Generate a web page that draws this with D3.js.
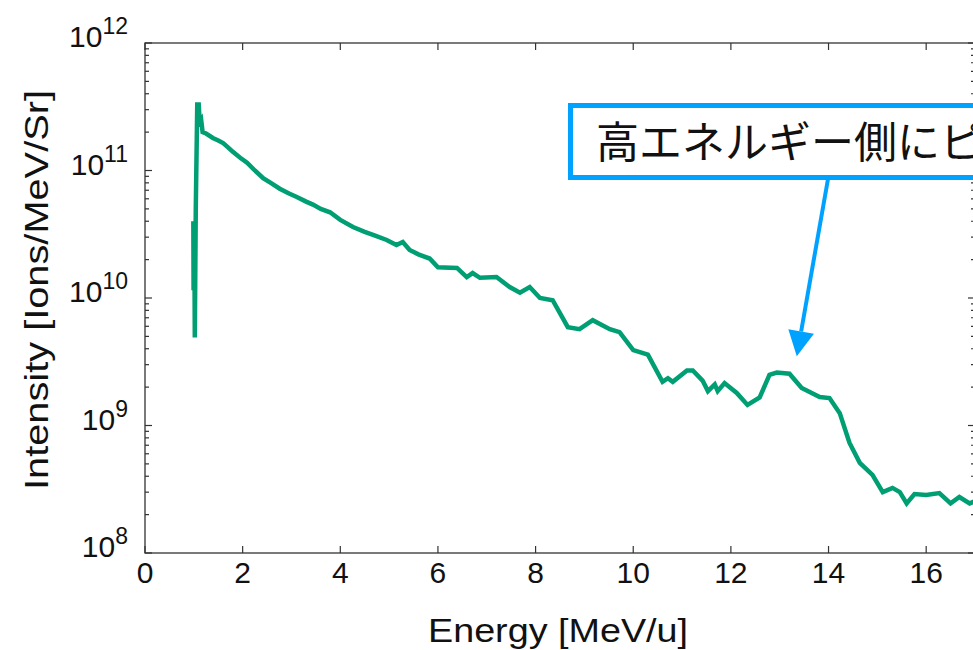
<!DOCTYPE html>
<html>
<head>
<meta charset="utf-8">
<script src="https://cdn.jsdelivr.net/npm/d3@7"></script>
<style>
  body { margin: 0; background: #fff; }
  svg { display: block; font-family: "Liberation Sans", Arial, sans-serif; }
</style>
</head>
<body>
<svg width="973" height="650"></svg>
<script>
// spectrum
const energy = [0.99, 0.995, 1.01, 1.02, 1.04, 1.07, 1.10, 1.12, 1.15, 1.18, 1.25, 1.39, 1.50, 1.60, 1.70, 1.80, 1.95,
  2.09, 2.25, 2.42, 2.60, 2.76, 2.95, 3.11, 3.30, 3.44, 3.60, 3.79, 4.00, 4.26, 4.50, 4.70, 4.95, 5.15, 5.28, 5.42,
  5.60, 5.83, 6.00, 6.39, 6.59, 6.71, 6.86, 7.20, 7.47, 7.68, 7.88, 8.09, 8.35, 8.66, 8.90, 9.17, 9.52, 9.72,
  10.0, 10.3, 10.6, 10.71, 10.81, 11.1, 11.22, 11.42, 11.53, 11.67, 11.73, 11.87, 12.12, 12.34, 12.59, 12.79,
  12.94, 13.2, 13.45, 13.82, 14.02, 14.23, 14.43, 14.64, 14.9, 15.11, 15.31, 15.46, 15.6, 15.76, 16.0, 16.27,
  16.5, 16.68, 16.89, 17.0];
const intensity = [4.0e10, 1.15e10, 3.5e10, 4.9e9, 5.0e10, 3.3e11, 3.3e11, 2.4e11, 2.5e11, 2.0e11, 1.95e11, 1.8e11, 1.72e11, 1.64e11, 1.52e11, 1.40e11, 1.26e11,
  1.15e11, 1.0e11, 8.7e10, 7.9e10, 7.2e10, 6.6e10, 6.2e10, 5.7e10, 5.4e10, 5.0e10, 4.7e10, 4.1e10, 3.6e10, 3.3e10, 3.1e10, 2.85e10, 2.6e10, 2.75e10, 2.38e10,
  2.2e10, 2.04e10, 1.74e10, 1.72e10, 1.46e10, 1.57e10, 1.44e10, 1.46e10, 1.22e10, 1.10e10, 1.22e10, 1.0e10, 9.6e9, 5.9e9, 5.7e9, 6.7e9, 5.7e9, 5.4e9,
  3.9e9, 3.6e9, 2.2e9, 2.35e9, 2.2e9, 2.7e9, 2.7e9, 2.25e9, 1.86e9, 2.1e9, 1.86e9, 2.15e9, 1.8e9, 1.45e9, 1.66e9, 2.5e9,
  2.6e9, 2.55e9, 1.97e9, 1.67e9, 1.64e9, 1.25e9, 7.3e8, 5.1e8, 4.1e8, 3.0e8, 3.24e8, 3.0e8, 2.45e8, 2.9e8, 2.85e8, 2.95e8,
  2.45e8, 2.75e8, 2.45e8, 2.55e8];

const xTicks = [0, 2, 4, 6, 8, 10, 12, 14, 16];
const yExponents = [8, 9, 10, 11, 12];
const noteText = "高エネルギー側にピーク";
const notePoint = [13.35, 3.5e9];

const svg = d3.select("svg");
const margin = {left: 145, top: 43, right: 975, bottom: 553};
const axisColor = "#333";

const x = d3.scaleLinear().domain([0, 17]).range([margin.left, margin.right]);
const y = d3.scaleLog().domain([1e8, 1e12]).range([margin.bottom, margin.top]);

svg.append("defs").append("clipPath").attr("id", "plotclip")
  .append("rect")
  .attr("x", margin.left).attr("y", margin.top)
  .attr("width", margin.right - margin.left).attr("height", margin.bottom - margin.top);

// data line
const pts = energy.map((e, i) => [e, intensity[i]]);
const line = d3.line().x(d => x(d[0])).y(d => y(d[1]));
svg.append("path")
  .datum(pts)
  .attr("clip-path", "url(#plotclip)")
  .attr("d", line)
  .attr("fill", "none")
  .attr("stroke", "#009e73")
  .attr("stroke-width", 4.5)
  .attr("stroke-linejoin", "miter");

// frame
svg.append("rect")
  .attr("x", margin.left).attr("y", margin.top)
  .attr("width", margin.right - margin.left).attr("height", margin.bottom - margin.top)
  .attr("fill", "none").attr("stroke", axisColor).attr("stroke-width", 1.3);

// inward ticks on all sides
const ticks = svg.append("g").attr("stroke", axisColor).attr("stroke-width", 1.2);
xTicks.forEach(t => {
  ticks.append("line").attr("x1", x(t)).attr("x2", x(t)).attr("y1", margin.bottom).attr("y2", margin.bottom - 7);
  ticks.append("line").attr("x1", x(t)).attr("x2", x(t)).attr("y1", margin.top).attr("y2", margin.top + 7);
});
const minor = [];
for (let p = 8; p < 12; p++) for (let m = 2; m <= 9; m++) minor.push(m * Math.pow(10, p));
yExponents.forEach(p => {
  const yy = y(Math.pow(10, p));
  ticks.append("line").attr("x1", margin.left).attr("x2", margin.left + 7).attr("y1", yy).attr("y2", yy);
  ticks.append("line").attr("x1", margin.right).attr("x2", margin.right - 7).attr("y1", yy).attr("y2", yy);
});
minor.forEach(v => {
  const yy = y(v);
  ticks.append("line").attr("x1", margin.left).attr("x2", margin.left + 4).attr("y1", yy).attr("y2", yy);
  ticks.append("line").attr("x1", margin.right).attr("x2", margin.right - 4).attr("y1", yy).attr("y2", yy);
});

// tick labels
svg.append("g").selectAll("text").data(xTicks).join("text")
  .attr("x", d => x(d)).attr("y", 583)
  .attr("text-anchor", "middle").attr("font-size", 30).attr("fill", "#111")
  .text(d => d);

const yl = svg.append("g").selectAll("text").data(yExponents).join("text")
  .attr("x", 128).attr("y", d => y(Math.pow(10, d)) + 4)
  .attr("text-anchor", "end").attr("font-size", 30).attr("fill", "#111");
yl.append("tspan").text("10");
yl.append("tspan").attr("dy", -13).attr("font-size", 23).text(d => d);

// axis titles (the original lettering is a bit wide)
svg.append("text")
  .attr("x", 558).attr("y", 642)
  .attr("text-anchor", "middle").attr("font-size", 33).attr("fill", "#111")
  .attr("textLength", 260).attr("lengthAdjust", "spacingAndGlyphs")
  .text("Energy [MeV/u]");
svg.append("text")
  .attr("transform", "translate(48,290) rotate(-90)")
  .attr("text-anchor", "middle").attr("font-size", 33).attr("fill", "#111")
  .attr("textLength", 400).attr("lengthAdjust", "spacingAndGlyphs")
  .text("Intensity [Ions/MeV/Sr]");

// annotation
const blue = "#00a2ff";
svg.append("rect")
  .attr("x", 570.5).attr("y", 105.5).attr("width", 460).attr("height", 72)
  .attr("fill", "#fff").attr("stroke", blue).attr("stroke-width", 5);
svg.append("text")
  .attr("x", 596).attr("y", 158)
  .attr("font-family", "'Noto Sans CJK JP', sans-serif")
  .attr("font-size", 43).attr("fill", "#111")
  .text(noteText);

const tip = [x(notePoint[0]), y(notePoint[1])];
const start = [828, 179];
const ang = Math.atan2(tip[1] - start[1], tip[0] - start[0]);
const headLen = 25, headW = 13;
const base = [tip[0] - headLen * Math.cos(ang), tip[1] - headLen * Math.sin(ang)];
svg.append("line")
  .attr("x1", start[0]).attr("y1", start[1])
  .attr("x2", base[0]).attr("y2", base[1])
  .attr("stroke", blue).attr("stroke-width", 4);
svg.append("path")
  .attr("d", d3.line()([
    tip,
    [base[0] + headW * Math.sin(ang), base[1] - headW * Math.cos(ang)],
    [base[0] - headW * Math.sin(ang), base[1] + headW * Math.cos(ang)]
  ]) + "Z")
  .attr("fill", blue);
</script>
</body>
</html>
